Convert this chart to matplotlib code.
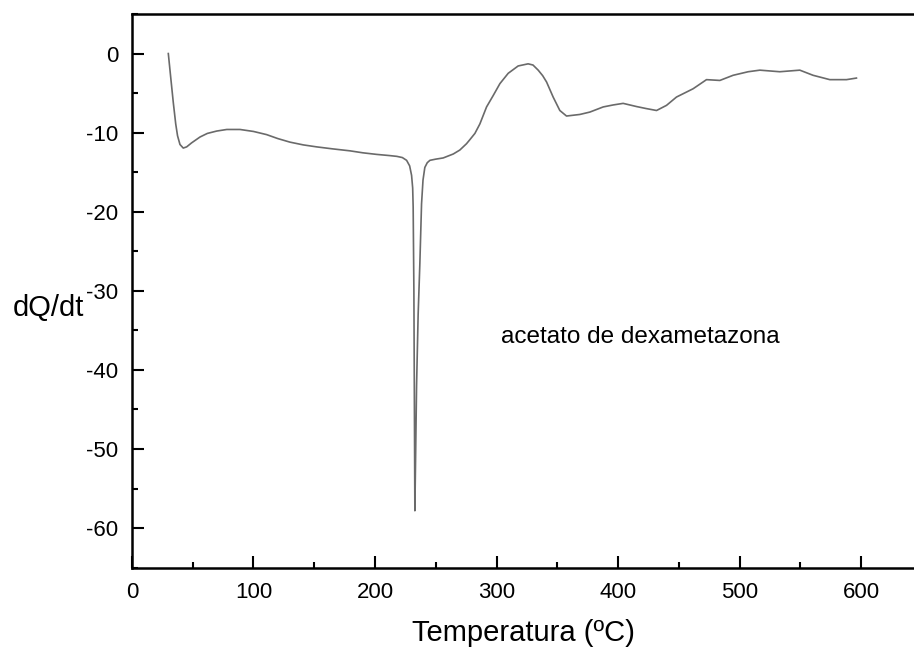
"""DSC curve of dexamethasone acetate (dQ/dt vs temperature)."""

import matplotlib
matplotlib.use("Agg")
import matplotlib.pyplot as plt
from matplotlib.ticker import MultipleLocator

plt.rcParams['font.family'] = ['Liberation Sans', 'DejaVu Sans']
plt.rcParams['axes.unicode_minus'] = False

# temperature (ºC) and heat flow
temperature = [29.9, 32.0, 34.0, 36.0, 37.5, 39.5, 42.2, 45.0, 49.0, 56.0, 62.0, 69.7,
               78.0, 88.9, 100.0, 110.8, 120.0, 130.0, 141.0, 152.0, 165.0, 179.4,
               190.0, 201.3, 212.0, 218.0, 222.5, 226.0, 228.5, 230.1, 231.0, 231.4,
               232.0, 232.8, 233.5, 234.2, 235.5, 236.9, 238.3, 239.5, 241.0, 243.0,
               245.2, 250.0, 256.1, 264.4, 269.8, 275.3, 278.0, 282.2, 286.3, 291.8,
               297.3, 302.8, 309.6, 317.8, 326.0, 330.0, 334.3, 338.0, 341.2, 346.6,
               352.1, 357.6, 368.6, 376.8, 387.8, 396.0, 404.2, 415.2, 423.0, 431.7,
               439.9, 448.1, 461.8, 472.8, 483.8, 494.7, 507.1, 516.7, 533.1, 549.6,
               560.5, 574.3, 588.0, 596.2]
heat_flow = [0.0, -3.2, -6.2, -8.9, -10.4, -11.5, -11.95, -11.8, -11.3, -10.55, -10.1, -9.8,
             -9.6, -9.6, -9.85, -10.25, -10.75, -11.2, -11.55, -11.8, -12.05, -12.3,
             -12.55, -12.75, -12.9, -13.0, -13.15, -13.5, -14.2, -15.4, -17.0, -19.4,
             -30.0, -57.8, -50.0, -42.0, -33.0, -26.6, -19.0, -16.0, -14.4, -13.8,
             -13.5, -13.35, -13.2, -12.7, -12.2, -11.4, -10.9, -10.1, -8.9, -6.75,
             -5.3, -3.8, -2.5, -1.57, -1.3, -1.45, -2.1, -2.8, -3.6, -5.5,
             -7.2, -7.9, -7.7, -7.4, -6.75, -6.5, -6.3, -6.7, -6.95, -7.2,
             -6.55, -5.5, -4.45, -3.3, -3.4, -2.75, -2.3, -2.1, -2.3, -2.1,
             -2.75, -3.3, -3.3, -3.1]

sample_label = "acetato de dexametazona"

fig = plt.figure(figsize=(9.14, 6.51), dpi=100)
ax = fig.add_axes([0.1444, 0.128, 0.8575, 0.8505])

ax.plot(temperature, heat_flow, color='#6a6a6a', linewidth=1.2)

ax.set_xlim(0, 645)
ax.set_ylim(-65, 5)
ax.xaxis.set_major_locator(MultipleLocator(100))
ax.xaxis.set_minor_locator(MultipleLocator(50))
ax.yaxis.set_major_locator(MultipleLocator(10))
ax.yaxis.set_minor_locator(MultipleLocator(5))
ax.set_yticks(range(-60, 1, 10))

ax.tick_params(which='major', direction='in', length=8.6, width=1.5,
               labelsize=16, pad=10, top=False, right=False)
ax.tick_params(which='minor', direction='in', length=4.6, width=1.5,
               top=False, right=False)
for spine in ax.spines.values():
    spine.set_linewidth(1.8)

ax.set_xlabel('Temperatura (ºC)', fontsize=21, labelpad=12)
ax.set_ylabel('dQ/dt', fontsize=21, rotation=0, ha='left', va='center')
ax.yaxis.set_label_coords(-0.1518, 0.469)

ax.text(304, -36.6, sample_label, fontsize=17.5, ha='left', va='baseline')

fig.savefig('out.png', dpi=100)
